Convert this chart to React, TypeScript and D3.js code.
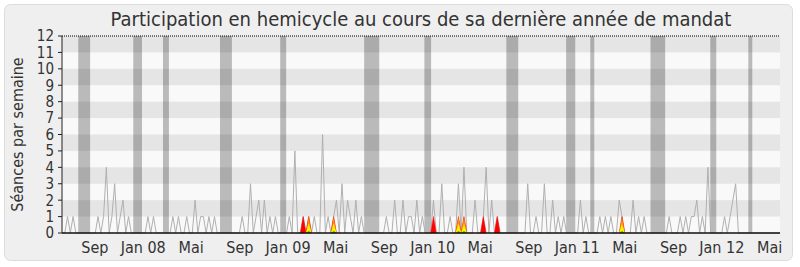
import React from "react";
import * as d3 from "d3";

const W = 800;
const H = 267;
const TITLE = "Participation en hemicycle au cours de sa dernière année de mandat";
const Y_LABEL = "Séances par semaine";

// weekly series start / domain
const DOMAIN_START = "2007-06-10";
const DOMAIN_END = "2012-05-27";

// total hemicycle sittings per week (gray line), one value per week from DOMAIN_START
const weeklySeances = [
  0,0,1,0,1,0, 0,0,0,0,0,0,
  0,1,0,1,4,0,1,3,0,1,2,0,1,0,
  0,0,0,0,
  0,1,0,1,0,0,
  0,0,0,0,
  1,0,1,0,0,1,0,0,2,0,1,1,0,1,0,1,0,
  0,0,0,0,0,0,0,0,
  1,0,0,3,0,1,2,0,2,0,1,0,1,0,
  0,0,0,
  1,0,5,0,0,1,0,1,0,1,0,0,6,0,1,0,1,2,0,3,0,2,1,0,2,0,1,0,
  0,0,0,0,0,0,
  0,1,0,0,2,0,0,2,0,1,1,0,2,0,1,0,
  0,0,2,0,0,3,0,0,1,0,0,3,0,4,0,0,0,2,0,0,1,4,0,2,0,1,0,
  0,0,0,0,0,0,0,0,
  0,3,0,0,1,0,0,3,0,0,2,0,1,0,1,0,
  0,0,0,0,
  2,0,1,0,
  0,0,0,
  1,0,1,0,1,0,0,2,1,0,0,0,2,0,1,0,1,0,
  0,0,0,0,0,0,
  0,1,0,0,0,1,0,1,0,1,1,2,0,1,0,4,0,0,
  0,0,0,
  1,0,1,2,3,0,
  0,0,0,0,0,0,0,0,0,0,0,0,0,0,0,
];

// weeks (index) with the deputy's presence
const presenceRedWeeks = [87, 89, 98, 134, 143, 145, 152, 157, 202];
const presenceOrangeWeeks = [89, 98, 143, 145, 202];
const presenceYellowWeeks = [89, 98, 143, 145, 202];
const presenceGreenWeeks = [89, 98, 143, 145, 202];
const presenceRedValues = [1, 1, 1, 1, 1, 1, 1, 1, 1];
const presenceOrangeValues = [1, 1, 1, 1, 1];
const presenceYellowValues = [0.6, 0.6, 0.6, 0.6, 0.6];
const presenceGreenValues = [0.12, 0.12, 0.12, 0.12, 0.12];

// parliamentary recess periods (gray bands)
const vacances: [string, string][] = [
  ["2007-07-21", "2007-08-20"],
  ["2007-12-07", "2007-12-29"],
  ["2008-02-20", "2008-03-06"],
  ["2008-07-13", "2008-08-12"],
  ["2008-12-12", "2008-12-27"],
  ["2009-07-12", "2009-08-19"],
  ["2009-12-11", "2009-12-28"],
  ["2010-07-06", "2010-08-05"],
  ["2010-12-04", "2010-12-27"],
  ["2011-02-03", "2011-02-13"],
  ["2011-07-05", "2011-08-11"],
  ["2011-12-03", "2011-12-18"],
  ["2012-03-08", "2012-03-18"],
];

const xTickDates = [
  "2007-09-01","2008-01-01","2008-05-01","2008-09-01","2009-01-01","2009-05-01",
  "2009-09-01","2010-01-01","2010-05-01","2010-09-01","2011-01-01","2011-05-01",
  "2011-09-01","2012-01-01","2012-05-01",
];
const monthNames = ["Jan","Fév","Mar","Avr","Mai","Juin","Juil","Aoû","Sep","Oct","Nov","Déc"];
const yTicks = [0,1,2,3,4,5,6,7,8,9,10,11,12];

const M = { left: 62, right: 780, top: 36, bottom: 233 };
const FONT = "'DejaVu Sans Condensed', 'DejaVu Sans', sans-serif";
const TEXT = "#333";

function toSparse(weeks: number[], values: number[], n: number) {
  const arr = new Array(n).fill(0);
  weeks.forEach((w, i) => (arr[w] = values[i]));
  return arr;
}

export default function App() {
  const parse = d3.utcParse("%Y-%m-%d");
  const start = parse(DOMAIN_START)!;
  const x = d3.scaleUtc().domain([start, parse(DOMAIN_END)!]).range([M.left, M.right]);
  const y = d3.scaleLinear().domain([0, 12]).range([M.bottom, M.top]);
  const weekDate = (i: number) => d3.utcDay.offset(start, 7 * i);
  const n = weeklySeances.length;

  const line = d3
    .line<number>()
    .x((_, i) => x(weekDate(i)))
    .y((d) => y(d));

  const layer = (weeks: number[], values: number[]) => {
    const s = toSparse(weeks, values, n);
    return weeks.map((w) => {
      const pts = [w - 1, w, w + 1].map((i) => s[i] ?? 0);
      const a = d3
        .area<number>()
        .x((_, j) => x(weekDate(w - 1 + j)))
        .y0(y(0))
        .y1((d) => y(d));
      return a(pts) as string;
    });
  };

  const redPaths = layer(presenceRedWeeks, presenceRedValues);
  const orangePaths = layer(presenceOrangeWeeks, presenceOrangeValues);
  const yellowPaths = layer(presenceYellowWeeks, presenceYellowValues);
  const greenPaths = layer(presenceGreenWeeks, presenceGreenValues);

  const stripes = d3.range(0, 12).filter((v) => v % 2 === 1);
  const textStyle = { fontStretch: "condensed" as const };

  return (
    <div style={{ position: "fixed", left: 0, top: 0 }}>
      <svg width={W} height={H} style={{ display: "block", background: "#fff" }}>
        <rect x={4.5} y={4.5} width={788} height={256} rx={6} fill="#efefef" stroke="#dcdcdc" />
        <rect x={M.left} y={M.top} width={M.right - M.left} height={M.bottom - M.top} fill="#f9f9f9" />
        {stripes.map((v) => (
          <rect key={v} x={M.left} y={y(v + 1)} width={M.right - M.left} height={y(v) - y(v + 1)} fill="#e5e5e5" />
        ))}
        {vacances.map(([a, b], i) => (
          <rect
            key={i}
            x={x(parse(a)!)}
            y={M.top}
            width={x(parse(b)!) - x(parse(a)!)}
            height={M.bottom - M.top}
            fill="#000"
            fillOpacity={0.25}
          />
        ))}
        <path d={line(weeklySeances) as string} fill="none" stroke="#b0b0b0" strokeWidth={1} />
        {redPaths.map((d, i) => (
          <path key={"r" + i} d={d} fill="#ff0000" stroke="#ff0000" strokeWidth={0.5} />
        ))}
        {orangePaths.map((d, i) => (
          <path key={"o" + i} d={d} fill="#ff8c00" />
        ))}
        {yellowPaths.map((d, i) => (
          <path key={"y" + i} d={d} fill="#ffee00" />
        ))}
        {greenPaths.map((d, i) => (
          <path key={"g" + i} d={d} fill="#00cc00" />
        ))}
        <line x1={M.left} x2={M.right} y1={M.top} y2={M.top} stroke="#000" strokeDasharray="1,1" />
        <line x1={M.left} x2={M.right} y1={M.bottom} y2={M.bottom} stroke="#111" strokeWidth={1.5} />
        <line x1={M.left} x2={M.left} y1={M.top} y2={M.bottom} stroke="#222" />
        {yTicks.map((t) => (
          <g key={t}>
            <line x1={M.left - 4} x2={M.left} y1={y(t)} y2={y(t)} stroke="#222" />
            <text x={M.left - 8} y={y(t)} dy="0.36em" textAnchor="end" fontFamily={FONT} fontSize={15} fill={TEXT} style={textStyle}>
              {t}
            </text>
          </g>
        ))}
        {xTickDates.map((s) => {
          const d = parse(s)!;
          const m = d.getUTCMonth();
          const label = m === 0 ? `Jan ${String(d.getUTCFullYear()).slice(2)}` : monthNames[m];
          return (
            <text key={s} x={x(d)} y={253} textAnchor="middle" fontFamily={FONT} fontSize={16} fill={TEXT} style={textStyle}>
              {label}
            </text>
          );
        })}
        <text
          transform={`translate(23,${(M.top + M.bottom) / 2}) rotate(-90)`}
          textAnchor="middle"
          fontFamily={FONT}
          fontSize={16}
          fill={TEXT}
          style={textStyle}
        >
          {Y_LABEL}
        </text>
        <text x={(M.left + M.right) / 2} y={26} textAnchor="middle" fontFamily={FONT} fontSize={20} fill={TEXT} style={textStyle}>
          {TITLE}
        </text>
      </svg>
    </div>
  );
}
